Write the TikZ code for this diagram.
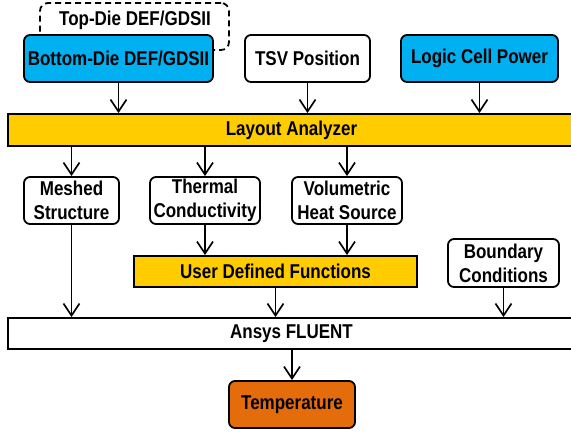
\documentclass[tikz,border=0pt]{standalone}
\usepackage{fontspec}
\setmainfont{Liberation Sans}[FakeStretch=0.85]
\usetikzlibrary{arrows.meta}
\definecolor{cblue}{RGB}{0,176,240}
\definecolor{cgold}{RGB}{255,204,0}
\definecolor{corange}{RGB}{228,108,10}
\tikzset{
  txt/.style={font=\fontsize{20}{24}\selectfont\bfseries, align=center, text=black},
  rbox/.style={txt, draw=black, line width=1.8pt, rounded corners=6pt, inner sep=0pt},
  bar/.style={txt, draw=black, line width=1.8pt, inner sep=0pt},
  dashbox/.style={draw=black, line width=1.8pt, rounded corners=8pt, dash pattern=on 6pt off 4pt, inner sep=0pt},
  arr/.style={line width=1.7pt, -{Straight Barb[length=12pt,width=16pt,line width=1.7pt]}},
}
\begin{document}
\begin{tikzpicture}[x=1pt,y=-1pt]
\useasboundingbox (0,0) rectangle (571,434);
% top row
\node[dashbox, minimum width=189pt, minimum height=47pt] (topdie) at (134.5,26.5) {};
\node[txt] (toptext) at (135,20) {Top-Die DEF/GDSII};
\node[rbox, fill=cblue, minimum width=189pt, minimum height=47pt] (bottom) at (118.5,58.5) {Bottom-Die DEF/GDSII};
\node[rbox, fill=white, minimum width=125pt, minimum height=47pt] (tsv) at (307.5,58.5) {TSV Position};
\node[rbox, fill=cblue, minimum width=157pt, minimum height=47pt] (logic) at (479.5,58.5) {Logic Cell Power};
% layout analyzer
\node[bar, fill=cgold, minimum width=567pt, minimum height=32pt] (layout) at (291.5,130) {Layout Analyzer};
% middle row
\node[rbox, fill=white, minimum width=95pt, minimum height=47pt] (meshed) at (71.5,200.5) {Meshed\\Structure};
\node[rbox, fill=white, minimum width=110pt, minimum height=47pt] (thermal) at (205,200.5) {Thermal\\Conductivity};
\node[rbox, fill=white, minimum width=110pt, minimum height=47pt] (volum) at (347,200.5) {Volumetric\\Heat Source};
% udf + boundary
\node[bar, fill=cgold, minimum width=283pt, minimum height=31pt] (udf) at (275.5,271.5) {User Defined Functions};
\node[rbox, fill=white, minimum width=111pt, minimum height=48pt] (boundary) at (503.5,263) {Boundary\\Conditions};
% ansys
\node[bar, fill=white, minimum width=567pt, minimum height=31pt] (ansys) at (291.5,333.5) {Ansys FLUENT};
\node[rbox, fill=corange, minimum width=126pt, minimum height=47pt] (temp) at (292,404.5) {Temperature};
% arrows
\draw[arr] (bottom.south) -- (bottom.south |- layout.north);
\draw[arr] (tsv.south) -- (tsv.south |- layout.north);
\draw[arr] (logic.south) -- (logic.south |- layout.north);
\draw[arr] (meshed.north |- layout.south) -- (meshed.north);
\draw[arr] (thermal.north |- layout.south) -- (thermal.north);
\draw[arr] (volum.north |- layout.south) -- (volum.north);
\draw[arr] (thermal.south) -- (thermal.south |- udf.north);
\draw[arr] (volum.south) -- (volum.south |- udf.north);
\draw[arr] (meshed.south) -- (meshed.south |- ansys.north);
\draw[arr] (udf.south) -- (udf.south |- ansys.north);
\draw[arr] (boundary.south) -- (boundary.south |- ansys.north);
\draw[arr] (temp.north |- ansys.south) -- (temp.north);
\end{tikzpicture}
\end{document}
